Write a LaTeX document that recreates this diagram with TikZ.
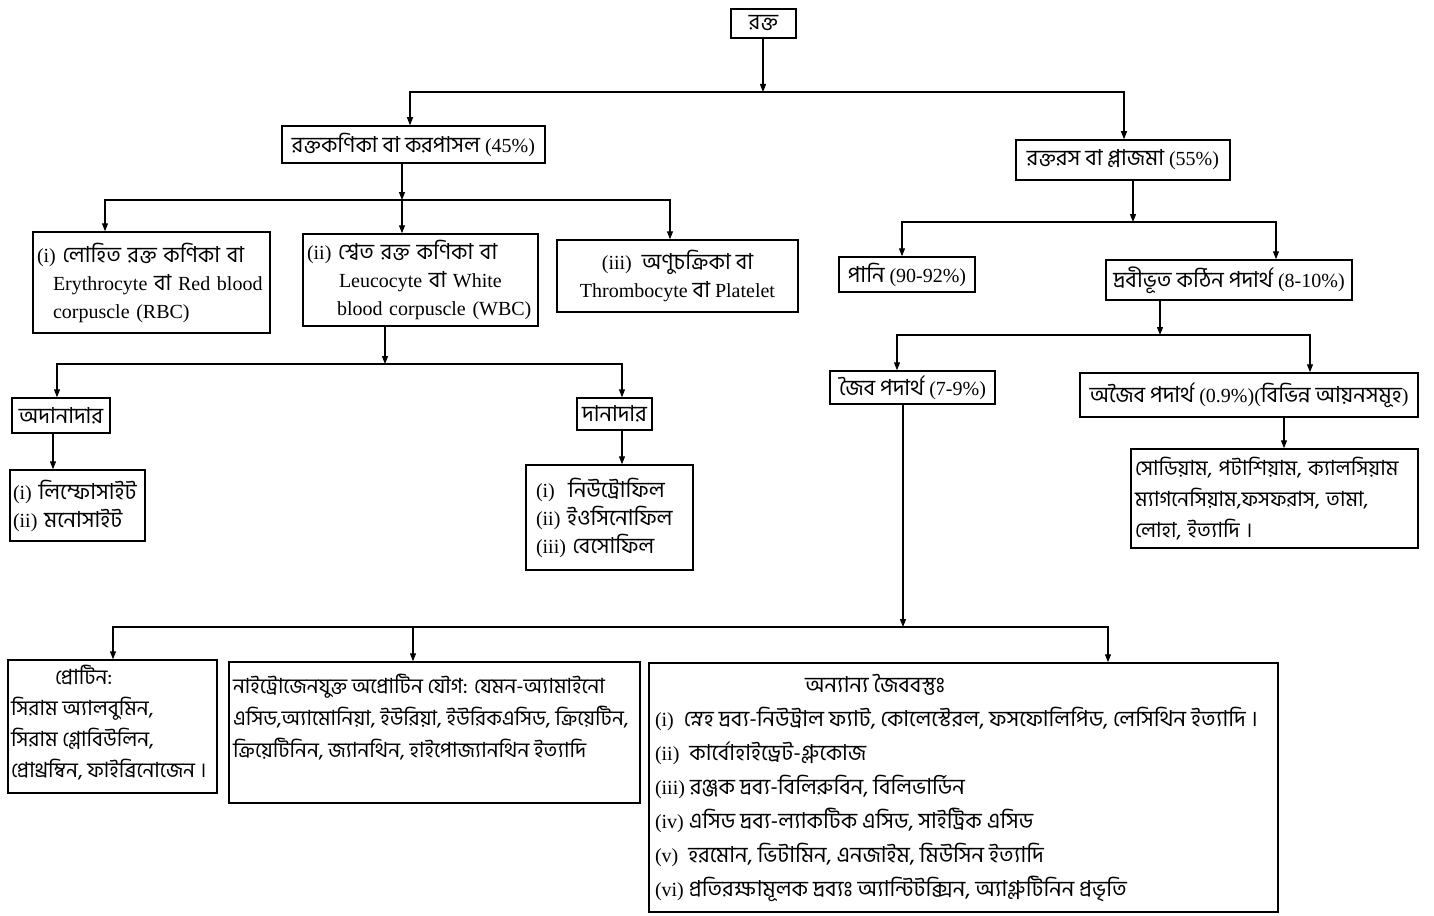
\documentclass[tikz,border=0pt]{standalone}
\usepackage{fontspec}
\setmainfont{Liberation Serif}
\newfontfamily\bn[Script=Bengali,Scale=1.1]{Hind Siliguri}
\usetikzlibrary{arrows.meta}
\newcommand\mytb[3]{\parbox[c][#2][t]{#1}{\raggedright #3}}
\begin{document}
\begin{tikzpicture}[x=1pt,y=-1pt,
  box/.style={draw, line width=1.5pt, inner sep=0pt, align=center, font=\fontsize{20}{28}\selectfont},
  lbox/.style={box, align=left, inner xsep=4pt},
  arr/.style={line width=1.2pt, -{Triangle[length=8pt,width=6pt]}},
]
\fill[white] (0,0) rectangle (1434,915);
\useasboundingbox (0,0) rectangle (1434,915);

% nodes
\node[box, minimum width=65pt, minimum height=29pt] (rokto) at (763.5,23.5) {\bn রক্ত};
\node[box, minimum width=263pt, minimum height=37pt] (korpa) at (413.5,144.5) {{\bn রক্তকণিকা বা করপাসল} (45\%)};
\node[box, minimum width=214pt, minimum height=40pt] (plasma) at (1123,160) {{\bn রক্তরস বা প্লাজমা} (55\%)};

\node[lbox, text width=229pt, minimum height=101pt] (rbc) at (151.5,282.5)
  {(i) {\bn লোহিত রক্ত কণিকা বা}\\
   \hspace*{16pt}Erythrocyte {\bn বা} Red blood\\
   \hspace*{16pt}corpuscle (RBC)};
\node[lbox, text width=227pt, minimum height=92pt] (wbc) at (420.5,280)
  {(ii) {\bn শ্বেত রক্ত কণিকা বা}\\
   \hspace*{32pt}Leucocyte {\bn বা} White\\
   \hspace*{30pt}blood corpuscle (WBC)};
\node[box, minimum width=241pt, minimum height=72pt] (thr) at (677.5,276)
  {(iii)\ \ {\bn অণুচক্রিকা বা}\\ Thrombocyte {\bn বা} Platelet};

\node[box, minimum width=136pt, minimum height=35pt] (pani) at (907,274.5) {{\bn পানি} (90-92\%)};
\node[box, minimum width=246pt, minimum height=40pt] (drobi) at (1229,280) {{\bn দ্রবীভূত কঠিন পদার্থ} (8-10\%)};
\node[box, minimum width=165pt, minimum height=33pt] (joib) at (912.5,387.5) {{\bn জৈব পদার্থ} (7-9\%)};
\node[box, minimum width=338pt, minimum height=44pt] (ojoib) at (1249,395) {{\bn অজৈব পদার্থ} (0.9\%)({\bn বিভিন্ন আয়নসমূহ})};
\node[lbox, text width=279pt, minimum height=99pt, font=\fontsize{19}{31}\selectfont] (ion) at (1274.5,498.5)
  {\bn সোডিয়াম, পটাশিয়াম, ক্যালসিয়াম\\ ম্যাগনেসিয়াম,ফসফরাস, তামা,\\ লোহা, ইত্যাদি ।};

\node[box, minimum width=98pt, minimum height=35pt] (odana) at (61,415.5) {\bn অদানাদার};
\node[box, minimum width=75pt, minimum height=32pt] (dana) at (614.5,414) {\bn দানাদার};
\node[lbox, text width=129pt, inner xsep=3pt, minimum height=71pt] (lympho) at (77.5,505.5)
  {(i) {\bn লিম্ফোসাইট}\\ (ii) {\bn মনোসাইট}};
\node[lbox, text width=147pt, inner xsep=10pt, minimum height=105pt] (neutro) at (609.5,517.5)
  {(i)\ \ {\bn নিউট্রোফিল}\\ (ii)\ {\bn ইওসিনোফিল}\\ (iii) {\bn বেসোফিল}};

\node[box, inner xsep=3pt, inner ysep=5pt, font=\fontsize{19}{31}\selectfont] (protein) at (112.5,726.5)
  {\mytb{203pt}{123pt}{\hspace*{44pt}{\bn প্রোটিন:}\\ {\bn সিরাম অ্যালবুমিন,}\\ {\bn সিরাম গ্লোবিউলিন,}\\ {\bn প্রোথ্রম্বিন, ফাইব্রিনোজেন ।}}};
\node[box, inner xsep=4pt, inner ysep=6pt, font=\fontsize{19}{32}\selectfont] (nitro) at (434.5,732.5)
  {\mytb{403pt}{129pt}{\vspace*{6pt}\bn নাইট্রোজেনযুক্ত অপ্রোটিন যৌগ: যেমন-অ্যামাইনো\\ এসিড,অ্যামোনিয়া, ইউরিয়া, ইউরিকএসিড, ক্রিয়েটিন,\\ ক্রিয়েটিনিন, জ্যানথিন, হাইপোজ্যানথিন ইত্যাদি}};
\node[box, inner sep=6pt, font=\fontsize{20}{34}\selectfont] (others) at (963.5,787.5)
  {\mytb{617pt}{237pt}{\vspace*{5pt}\hspace*{150pt}{\bn অন্যান্য জৈববস্তুঃ}\\
   (i)\ \ {\bn স্নেহ দ্রব্য-নিউট্রাল ফ্যাট, কোলেস্টেরল, ফসফোলিপিড, লেসিথিন ইত্যাদি ।}\\
   (ii)\ \ {\bn কার্বোহাইড্রেট-গ্লুকোজ}\\
   (iii) {\bn রঞ্জক দ্রব্য-বিলিরুবিন, বিলিভার্ডিন}\\
   (iv) {\bn এসিড দ্রব্য-ল্যাকটিক এসিড, সাইট্রিক এসিড}\\
   (v)\ \ {\bn হরমোন, ভিটামিন, এনজাইম, মিউসিন ইত্যাদি}\\
   (vi) {\bn প্রতিরক্ষামূলক দ্রব্যঃ অ্যান্টিটক্সিন, অ্যাগ্লুটিনিন প্রভৃতি}}};

% junctions
\coordinate (j1) at (763,92);
\coordinate (j2) at (402,200);
\coordinate (j3) at (1133,222);
\coordinate (j4) at (1160,335);
\coordinate (j5) at (385,364);
\coordinate (j6) at (903,627);

% connectors
\draw[arr] (rokto.south -| j1) -- (j1);
\draw[arr] (j1) -| (korpa.north -| 410,0);
\draw[arr] (j1) -| (plasma.north -| 1124,0);

\draw[arr] (korpa.south -| j2) -- (j2);
\draw[arr] (j2) -| (rbc.north -| 105,0);
\draw[arr] (j2) -- (wbc.north -| j2);
\draw[arr] (j2) -| (thr.north -| 670,0);

\draw[arr] (plasma.south -| j3) -- (j3);
\draw[arr] (j3) -| (pani.north -| 902,0);
\draw[arr] (j3) -| (drobi.north -| 1276,0);

\draw[arr] (drobi.south -| j4) -- (j4);
\draw[arr] (j4) -| (joib.north -| 897,0);
\draw[arr] (j4) -| (ojoib.north -| 1310,0);

\draw[arr] (ojoib.south -| 1284,0) -- (ion.north -| 1284,0);

\draw[arr] (wbc.south -| j5) -- (j5);
\draw[arr] (j5) -| (odana.north -| 57,0);
\draw[arr] (j5) -| (dana.north -| 622,0);
\draw[arr] (odana.south -| 53,0) -- (lympho.north -| 53,0);
\draw[arr] (dana.south -| 622,0) -- (neutro.north -| 622,0);

\draw[arr] (joib.south -| j6) -- (j6);
\draw[arr] (j6) -| (protein.north -| 113,0);
\draw[arr] (j6) -| (nitro.north -| 413,0);
\draw[arr] (j6) -| (others.north -| 1108,0);
\end{tikzpicture}
\end{document}
